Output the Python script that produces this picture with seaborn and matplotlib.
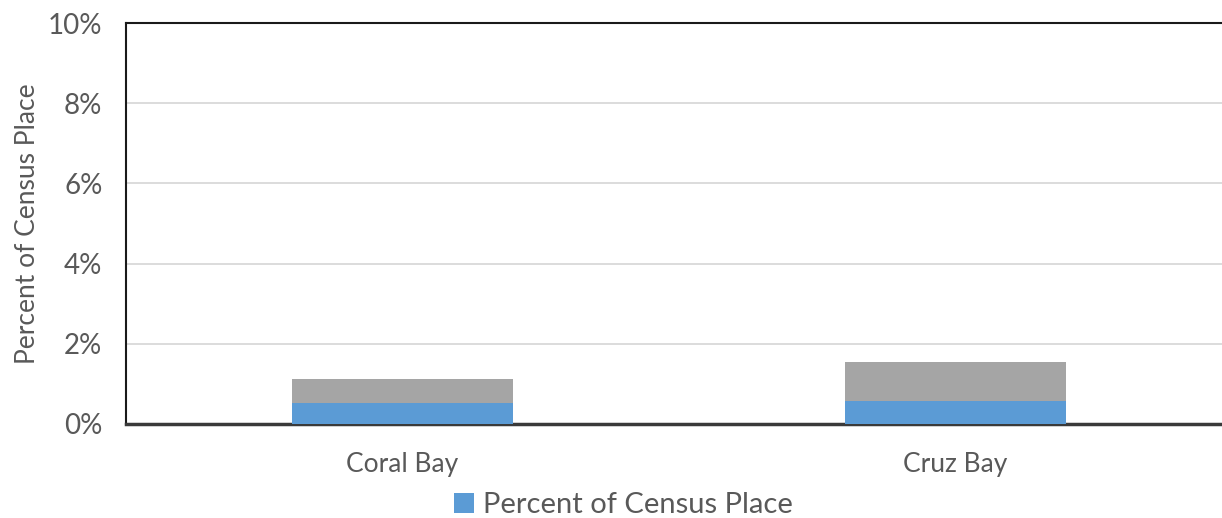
import matplotlib
matplotlib.use("Agg")
import matplotlib.pyplot as plt
import matplotlib.ticker as mticker
from matplotlib.patches import Patch
import pandas as pd
import seaborn as sns

# Census places and their shares (percent)
places = ["Coral Bay", "Cruz Bay"]
pct_of_place = [0.52, 0.57]        # blue segment
pct_remainder = [0.60, 0.98]       # grey segment stacked above
y_ticks = [0, 2, 4, 6, 8, 10]

df = pd.DataFrame({
    "place": places,
    "base": pct_of_place,
    "total": [a + b for a, b in zip(pct_of_place, pct_remainder)],
})

sns.set_theme(style="white")
plt.rcParams["font.family"] = ["Lato", "DejaVu Sans"]
text_color = "#595959"

fig = plt.figure(figsize=(12.22, 5.18), dpi=100)
ax = fig.add_axes([126 / 1222, 94 / 518, 1106 / 1222, 401 / 518])

# Grey total drawn first, blue share overlaid from zero
sns.barplot(data=df, x="place", y="total", color="#a5a5a5", width=0.4,
            saturation=1, linewidth=0, ax=ax, zorder=2)
sns.barplot(data=df, x="place", y="base", color="#5b9bd5", width=0.4,
            saturation=1, linewidth=0, ax=ax, zorder=3)

ax.set_ylim(0, 10)
ax.set_yticks(y_ticks)
ax.yaxis.set_major_formatter(mticker.FuncFormatter(lambda v, _: f"{v:.0f}%"))
ax.yaxis.grid(True, color="#d9d9d9", linewidth=1.3, zorder=0)
ax.set_axisbelow(True)

ax.tick_params(axis="y", length=0, pad=17, labelsize=20, labelcolor=text_color)
ax.tick_params(axis="x", length=0, pad=20, labelsize=19, labelcolor=text_color)
ax.set_xlabel("")
ax.set_ylabel("Percent of Census Place", fontsize=19, color=text_color, labelpad=6)

for side in ["left", "top", "right"]:
    ax.spines[side].set_color("#1a1a1a")
    ax.spines[side].set_linewidth(1.5)
ax.spines["bottom"].set_color("#3a3a3a")
ax.spines["bottom"].set_linewidth(2.5)

handles = [Patch(facecolor="#5b9bd5", edgecolor="none", label="Percent of Census Place")]
fig.legend(handles=handles, loc="center", bbox_to_anchor=(0.51, 1 - 505 / 518),
           frameon=False, fontsize=21, handlelength=0.7, handleheight=0.7,
           handletextpad=0.3, borderpad=0, borderaxespad=0, labelcolor=text_color)

fig.savefig("out.png", dpi=100)
